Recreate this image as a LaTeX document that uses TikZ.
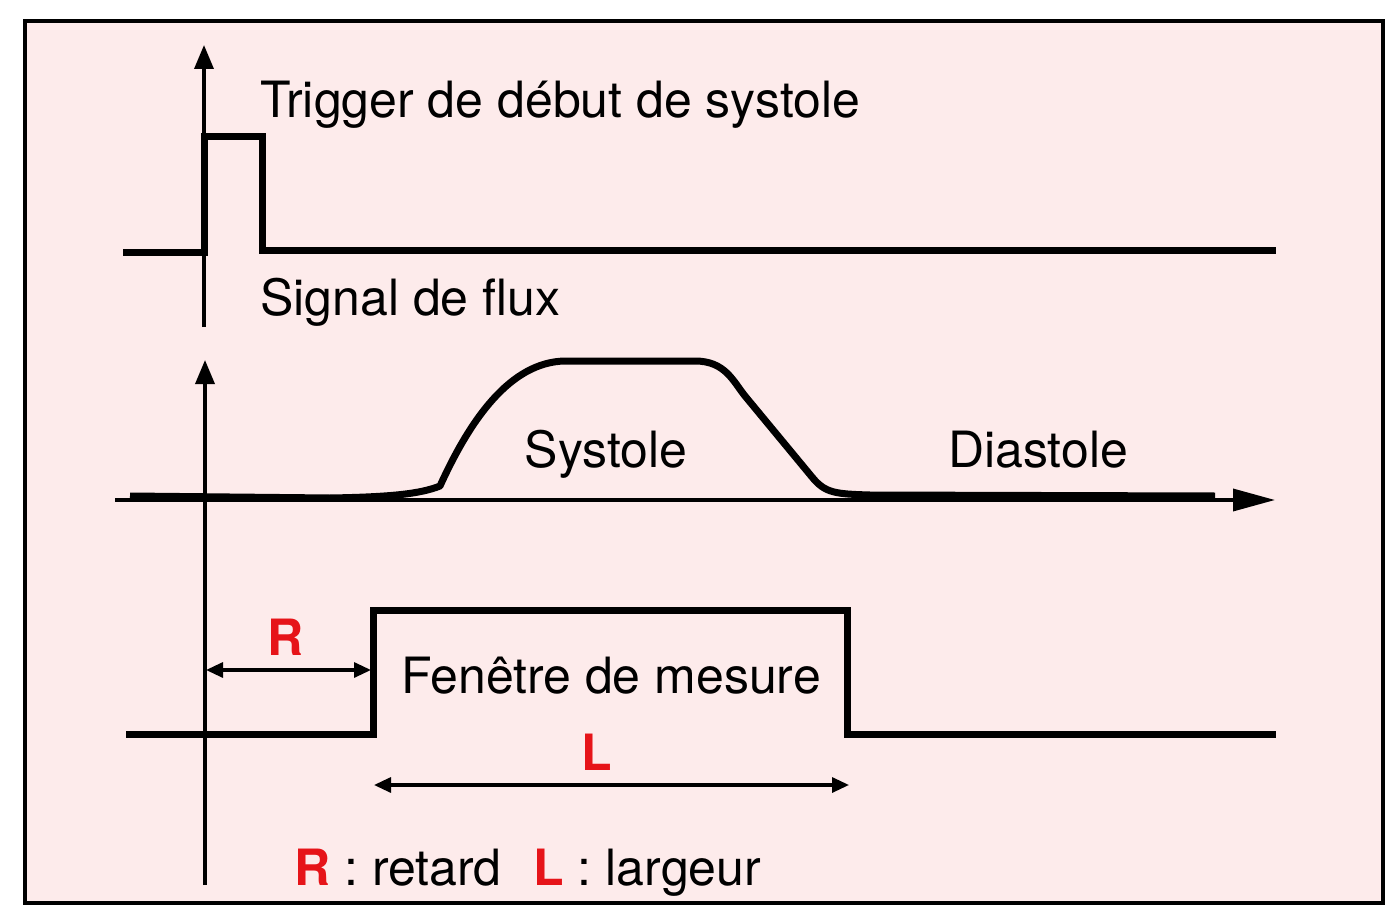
\documentclass[tikz,border=0pt]{standalone}
\usepackage{fontspec}
\setmainfont{TeX Gyre Heros}
\usetikzlibrary{arrows.meta}
\definecolor{fondrose}{RGB}{253,235,235}
\definecolor{rougelbl}{RGB}{230,20,25}
\tikzset{
	axe/.style={line width=3.5pt, -{Triangle[length=24pt, width=19pt]}},
	signal/.style={line width=7pt, line join=miter},
	cote/.style={line width=3.2pt, {Triangle[length=17pt, width=15pt]}-{Triangle[length=17pt, width=15pt]}},
	texte/.style={font=\fontsize{50}{60}\selectfont, inner sep=0pt},
	lettre/.style={inner sep=0pt, font=\fontsize{50}{60}\selectfont\bfseries, text=rougelbl}
}
\begin{document}
\begin{tikzpicture}[x=1pt, y=-1pt]
		\useasboundingbox (0,0) rectangle (1397,920);
		% cadre
		\draw[fill=fondrose, line width=3.5pt] (25,21) rectangle (1383,903);
		% trigger
		\draw[axe] (204,327) -- (204,45);
		\draw[signal] (123,252) -- (204,252) -- (204,137) -- (262,137) -- (262,250) -- (1276,250);
			\node[texte, anchor=base west] (trigger) at (260,118) {Trigger de début de systole};
			\node[texte, anchor=base west] (flux) at (260,315) {Signal de flux};
		% signal de flux
		\draw[axe] (205,885) -- (205,360);
		\draw[axe, -{Triangle[length=42pt, width=22pt]}] (115,500) -- (1275,500);
		\draw[signal, line join=round] (130,496) -- (330,498)
			.. controls (390,497) and (420,494) .. (440,486)
			.. controls (470,420) and (510,362) .. (565,361) -- (695,361)
			.. controls (725,361) and (733,381) .. (745,396) -- (812,477)
			.. controls (825,493) and (835,494) .. (870,495) -- (1215,496);
			\node[texte, anchor=base] (systole) at (606,467) {Systole};
			\node[texte, anchor=base] (diastole) at (1038,467) {Diastole};
		% fenetre de mesure
		\draw[signal] (126,734) -- (373,734) -- (373,610) -- (847,610) -- (847,734) -- (1276,734);
			\node[texte, anchor=base] (fenetre) at (611,693) {Fenêtre de mesure};
			\coordinate (rA) at (206,670);
			\coordinate (rB) at (371,670);
			\coordinate (lA) at (374,785);
			\coordinate (lB) at (849,785);
			\draw[cote] (rA) -- (rB);
			\draw[cote] (lA) -- (lB);
			\node[lettre, anchor=base] (lblR) at (286,655) {R};
			\node[lettre, anchor=base] (lblL) at (597,770) {L};
		% legende
			\node[texte, anchor=base west] (legende) at (294,885) {\textcolor{rougelbl}{\bfseries R} : retard\hspace{18pt} \textcolor{rougelbl}{\bfseries L} : largeur};
	\end{tikzpicture}
\end{document}
